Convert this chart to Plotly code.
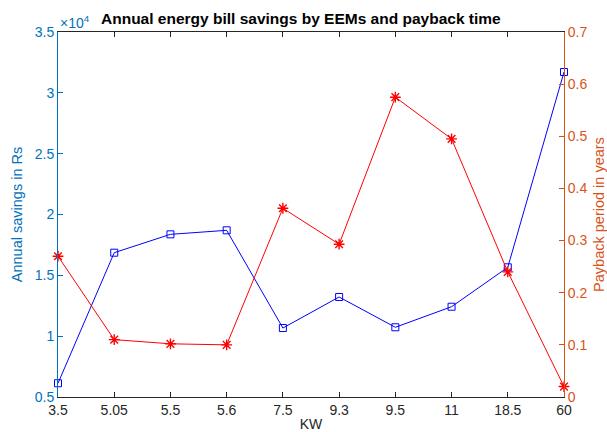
import plotly.graph_objects as go

categories = ["3.5", "5.05", "5.5", "5.6", "7.5", "9.3", "9.5", "11", "18.5", "60"]
annual_savings = [6130, 16860, 18370, 18700, 10670, 13220, 10730, 12420, 15660, 31710]
payback_years = [0.270, 0.110, 0.102, 0.100, 0.362, 0.293, 0.575, 0.495, 0.240, 0.020]

left_ticks = [5000, 10000, 15000, 20000, 25000, 30000, 35000]
left_ticktext = ["0.5", "1", "1.5", "2", "2.5", "3", "3.5"]
right_ticks = [0, 0.1, 0.2, 0.3, 0.4, 0.5, 0.6, 0.7]
right_ticktext = ["0", "0.1", "0.2", "0.3", "0.4", "0.5", "0.6", "0.7"]

BLUE_AX = "#0072BD"
ORANGE_AX = "#D95319"
FONT = "Liberation Sans, Arial, sans-serif"

fig = go.Figure()
fig.add_trace(go.Scatter(
    x=categories, y=annual_savings, mode="lines+markers",
    line=dict(color="#0000FF", width=1),
    marker=dict(symbol="square-open", size=7, color="#0000FF", line=dict(width=1)),
    cliponaxis=False, yaxis="y", showlegend=False))
fig.add_trace(go.Scatter(
    x=categories, y=payback_years, mode="lines+markers",
    line=dict(color="#FF0000", width=1),
    marker=dict(symbol="asterisk-open", size=9, color="#FF0000", line=dict(width=1.4, color="#FF0000")),
    cliponaxis=False, yaxis="y2", showlegend=False))

fig.update_layout(
    width=607, height=432,
    margin=dict(l=58, r=43, t=32, b=35),
    paper_bgcolor="white", plot_bgcolor="white",
    font=dict(family=FONT, size=14, color="#262626"),
    xaxis=dict(
        type="category", range=[0, 9], showgrid=False, zeroline=False, automargin=False,
        showline=True, linecolor="#262626", linewidth=1, mirror="ticks",
        ticks="inside", ticklen=5, tickcolor="#262626",
        tickfont=dict(size=14, color="#262626"),
        title=dict(text="KW", font=dict(size=14, color="#262626"), standoff=2),
    ),
    yaxis=dict(
        range=[5000, 35000], tickvals=left_ticks, ticktext=left_ticktext, automargin=False,
        showgrid=False, zeroline=False, showline=True, linecolor=BLUE_AX, linewidth=1,
        ticks="inside", ticklen=5, tickcolor=BLUE_AX,
        tickfont=dict(size=14, color=BLUE_AX),
        title=dict(text="Annual savings in Rs", font=dict(size=14.5, color=BLUE_AX), standoff=8),
    ),
    yaxis2=dict(
        range=[0, 0.7], tickvals=right_ticks, ticktext=right_ticktext, automargin=False,
        overlaying="y", side="right",
        showgrid=False, zeroline=False, showline=True, linecolor=ORANGE_AX, linewidth=1,
        ticks="inside", ticklen=5, tickcolor=ORANGE_AX,
        tickfont=dict(size=14, color=ORANGE_AX),
        title=dict(text="Payback period in years", font=dict(size=14.5, color=ORANGE_AX), standoff=10),
    ),
    annotations=[
        dict(text="<b>Annual energy bill savings by EEMs and payback time</b>",
             xref="paper", yref="paper", x=0.48, y=1.0, yshift=3,
             xanchor="center", yanchor="bottom", showarrow=False,
             font=dict(size=15.5, color="black", family=FONT)),
        dict(text="×10<sup>4</sup>", xref="paper", yref="paper", x=0.0, y=1.0,
             xanchor="left", yanchor="bottom", showarrow=False, yshift=-1,
             font=dict(size=14, color=BLUE_AX, family=FONT)),
    ],
)

fig.write_html("out.html", config={"displayModeBar": False},
               post_script="document.body.style.margin='0';")
